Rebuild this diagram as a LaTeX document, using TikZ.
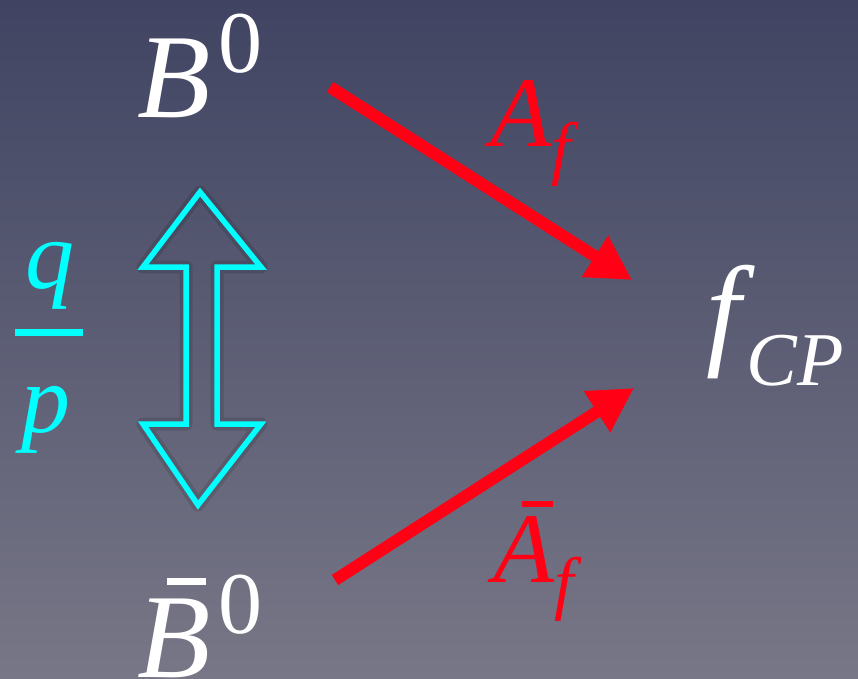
\documentclass[tikz,border=0pt]{standalone}
\usepackage{fontspec}
\setmainfont{Liberation Serif}
\usetikzlibrary{arrows.meta}
\definecolor{bgtop}{RGB}{64,68,98}
\definecolor{bgbot}{RGB}{120,119,135}
\definecolor{arrred}{RGB}{255,0,20}
\definecolor{cyanc}{RGB}{0,255,255}
\begin{document}
\begin{tikzpicture}[x=1pt,y=-1pt,
  lbl/.style={inner sep=0pt, outer sep=0pt, anchor=base west},
  redarrow/.style={draw=arrred, line width=12pt, -{Triangle[length=44pt,width=46pt]}},
  dblarrow/.style={draw=cyanc, line width=5.5pt, miter limit=10},
  dblshadow/.style={draw=black, opacity=0.12, line width=13pt, line join=round}]
\shade[top color=bgtop,bottom color=bgbot] (0,0) rectangle (858,678);
\useasboundingbox (0,0) rectangle (858,678);
% labels
\node[lbl, text=white] (B) at (137,117) {\fontsize{120}{120}\selectfont\itshape B\kern8pt\raisebox{45pt}{\fontsize{88}{88}\selectfont\upshape 0}};
\node[lbl, text=white] (Bbar) at (137,677) {\fontsize{120}{120}\selectfont\itshape \rlap{\kern30pt\raisebox{92pt}{\rule{39pt}{7pt}}}B\kern8pt\raisebox{44pt}{\fontsize{88}{88}\selectfont\upshape 0}};
\node[lbl, text=white] (fcp) at (706,352) {\fontsize{124}{124}\selectfont\itshape f\kern6pt\raisebox{-33pt}{\fontsize{76}{76}\selectfont CP}};
\node[lbl, text=arrred] (Af) at (490,146) {\fontsize{100}{100}\selectfont\itshape A\raisebox{-25pt}{\fontsize{70}{70}\selectfont f}};
\node[lbl, text=arrred] (Abf) at (493,582) {\fontsize{100}{100}\selectfont\itshape \rlap{\kern29pt\raisebox{75pt}{\rule{31pt}{6pt}}}A\raisebox{-24pt}{\fontsize{70}{70}\selectfont f}};
\node[inner sep=0pt, anchor=base, text=cyanc] (q) at (50,288) {\fontsize{98}{98}\selectfont\itshape q};
\node[inner sep=0pt, anchor=base, text=cyanc] (p) at (46,432) {\fontsize{98}{98}\selectfont\itshape p};
\coordinate (fl) at (15,332.5);
\coordinate (fr) at (83,332.5);
\draw[cyanc, line width=7pt] (fl) -- (fr);
% double arrow
\draw[dblshadow] (200,192) -- (261,267) -- (217,267) -- (217,424) -- (261,424) -- (198,505) -- (143,424) -- (186,424) -- (186,267) -- (143,267) -- cycle;
\draw[dblarrow] (200,192) -- (261,267) -- (217,267) -- (217,424) -- (261,424) -- (198,505) -- (143,424) -- (186,424) -- (186,267) -- (143,267) -- cycle;
% red arrows
\coordinate (a1s) at (330,87);
\coordinate (a1e) at (632,280);
\coordinate (a2s) at (335,580);
\coordinate (a2e) at (634,388);
\draw[redarrow] (a1s) -- (a1e);
\draw[redarrow] (a2s) -- (a2e);
\end{tikzpicture}
\end{document}
